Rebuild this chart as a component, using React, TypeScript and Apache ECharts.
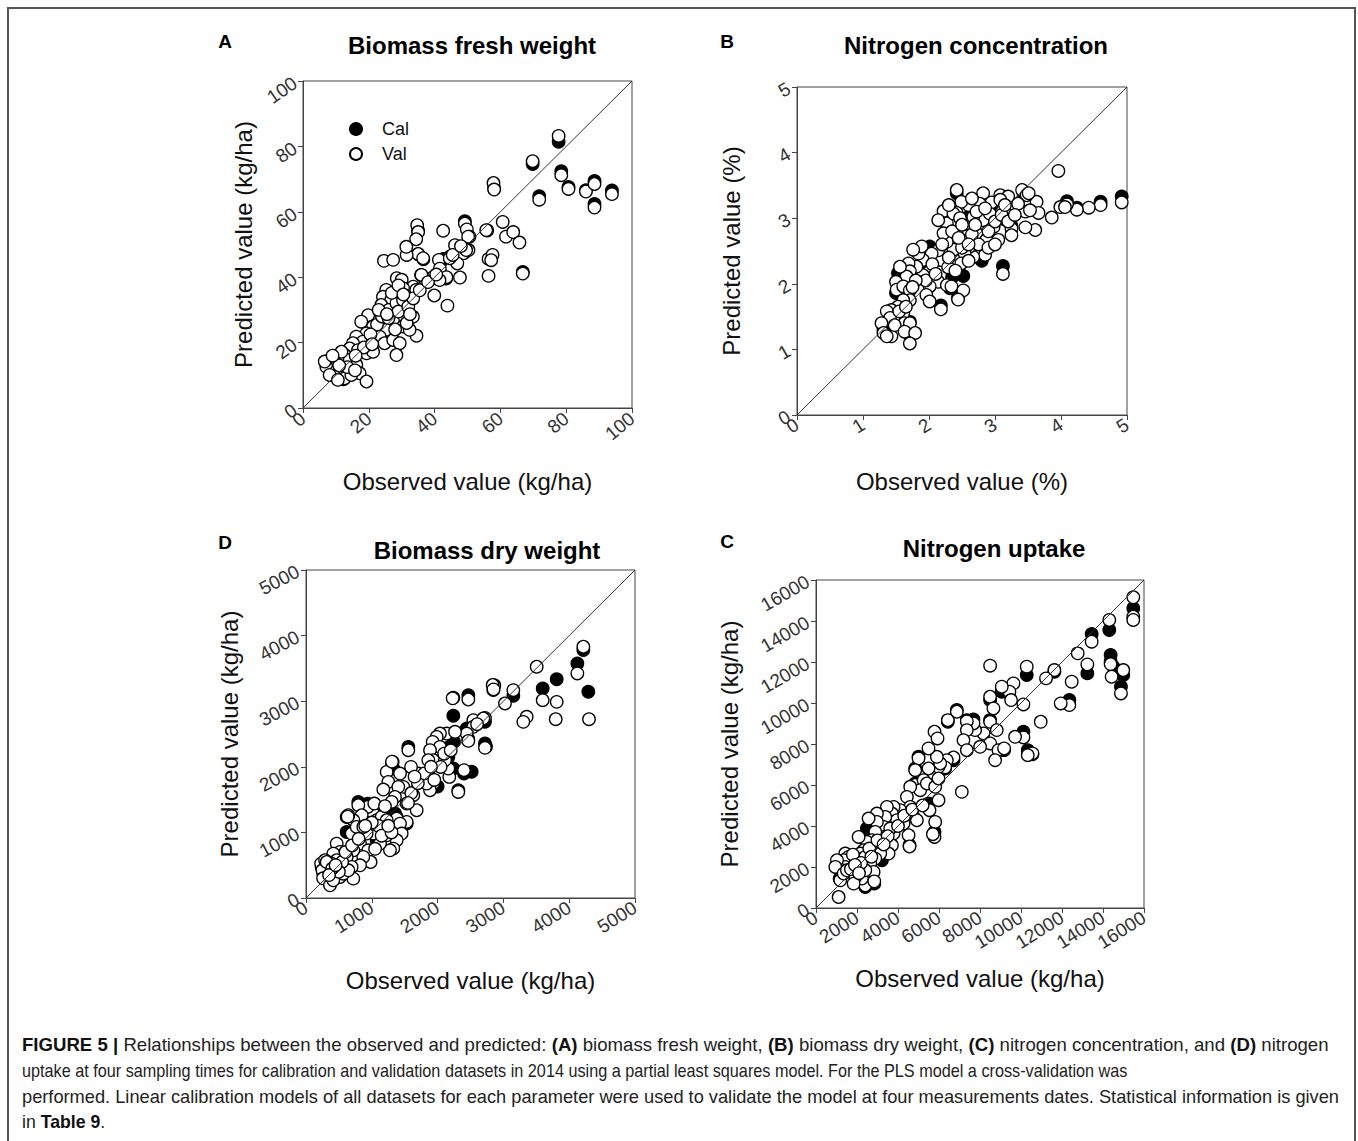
import { useEffect, useRef } from "react";
import * as echarts from "echarts";

const FONT = '"Liberation Sans", Arial, Helvetica, sans-serif';
const CAP_FONT = '"Liberation Sans Narrow", "Liberation Sans", Arial, sans-serif';

// ---------- Panel A: biomass fresh weight (kg/ha) ----------
const freshTicks = { max: 100, interval: 20 };
const freshCal: number[][] = [
  [77.7, 81.4], [69.8, 74.6], [78.5, 72.4], [80.7, 67.6], [71.8, 64.8], [88.6, 69.4], [88.6, 62.4],
  [93.9, 66.5], [58.1, 67.2], [66.8, 41.6], [49.2, 57.1], [35, 54.1], [42.6, 45.6], [12.3, 8.8],
  [28, 29], [35, 47], [20, 20], [25, 24], [49, 47.5], [86, 66.6], [31, 27], [15, 15],
];
const freshVal: number[][] = [
  [77.7, 83.2], [69.8, 75.5], [78.5, 71.2], [80.7, 67], [71.8, 63.7], [86, 66.2], [88.6, 68.5],
  [88.6, 61.3], [93.9, 65.4], [57.9, 68.8], [58.1, 66.8], [56, 54.3], [60.7, 56.9], [61.7, 52.4],
  [63.9, 53.8], [65.8, 50.6], [56.4, 45.6], [57.6, 46.8], [57.2, 45.2], [56.4, 40.4], [66.8, 41.1],
  [49.2, 56.4], [49.8, 54.6], [50.6, 52.4], [50.3, 48.3], [48.7, 47.3], [46.2, 49.8], [46.9, 44.2],
  [47.7, 39.9], [44.7, 46.3], [42.6, 54.2], [41.3, 45.3], [41.6, 42.6], [43.5, 39.6], [39.9, 34.4],
  [43.9, 31.3], [39.6, 40.1], [37.6, 38.6], [34.7, 55.9], [35, 53.8], [34.4, 51.6], [36.6, 45.5],
  [35, 47.1], [31.5, 46.8], [31.4, 49.3], [24.6, 45], [27.4, 45.3], [35.9, 40.7], [33.5, 37.1],
  [34.4, 36.1], [28.5, 39.7], [30, 39.2], [30.4, 36.6], [34.5, 22.1], [36.5, 45.8], [44.6, 45.8],
  [43.6, 40], [41.5, 39.1], [55.7, 54.4], [49.6, 48.3], [50.2, 52.4], [37.3, 38.9], [36, 40.7],
  [25.3, 36.1], [24.3, 34], [26.8, 33], [23.8, 31.5], [22.1, 27.9], [26.1, 30], [28.4, 32],
  [30.4, 33], [31.4, 30], [33.4, 27.9], [29.4, 27.4], [27.4, 26.4], [30.4, 24.9], [32.4, 23.9],
  [25.3, 23.9], [23.3, 21.8], [24.8, 19.8], [27.4, 20.8], [29.4, 19.8], [28.4, 16.2], [19.8, 28.4],
  [17.7, 26.4], [21.3, 24.9], [19.3, 22.8], [16.2, 21.8], [18.2, 20.3], [20.8, 19.3], [15.2, 19.8],
  [14.2, 18.2], [16.7, 17.7], [19.3, 16.7], [21.3, 17.2], [12.7, 16.2], [10.1, 15.7], [8.1, 14.7],
  [9.6, 13.7], [12.2, 13.7], [14.2, 14.7], [16.2, 13.2], [7.1, 12.6], [10.1, 11.2], [8.1, 10.1],
  [12.7, 11.6], [17.2, 10.6], [12.7, 9.1], [10.6, 8.6], [19.3, 8.1], [14.7, 10.1], [6.6, 14.2],
  [11.7, 17.2], [22.5, 25.5], [24, 28], [26, 27.5], [29, 29.5], [32, 31], [27, 35.2], [29, 37.5],
  [31.5, 26], [23, 30], [20.5, 22.5], [18.5, 18.5], [13.5, 12.5], [11, 13], [9, 16], [16, 16],
  [32.5, 28.7], [33.5, 33.5], [30.5, 34.7], [25.5, 28.7], [28, 24], [21, 19.5], [15.8, 11.5],
  [35.5, 36], [38, 38.5], [40.5, 40.8], [45.5, 46.8], [48, 49.5],
];

// ---------- Panel B: nitrogen concentration (%) ----------
const nConcTicks = { max: 5, interval: 1 };
const nConcCal: number[][] = [
  [4.92, 3.33], [4.6, 3.25], [4.24, 3.16], [4.09, 3.26], [3.25, 2.88], [3.12, 2.27], [2.52, 2.12],
  [2.44, 1.79], [2.18, 1.67], [2.01, 2.57], [2.42, 3.38], [2.32, 1.93], [1.53, 2.16], [1.5, 1.86],
  [1.71, 1.42], [1.71, 1.22], [1.31, 1.3], [2.62, 3.04], [3.43, 3.38], [2.35, 2.1], [2.8, 2.35],
  [2.95, 3.2], [1.85, 2.2],
];
const nConcVal: number[][] = [
  [3.96, 3.72], [4.92, 3.24], [4.6, 3.2], [4.42, 3.16], [4.24, 3.13], [4.09, 3.21], [3.99, 3.17],
  [4.06, 3.17], [3.86, 3.01], [3.63, 3.25], [3.66, 3.08], [3.61, 2.82], [3.46, 2.86], [3.41, 3.43],
  [3.48, 3.35], [3.46, 3.1], [3.53, 3.12], [3.3, 3.2], [3.15, 2.98], [3.25, 2.84], [3.25, 2.74],
  [3.12, 2.15], [2.52, 1.9], [2.44, 1.76], [2.18, 1.61], [2.42, 3.43], [2.82, 3.38], [3.08, 3.35],
  [3.2, 3.33], [2.95, 3.24], [2.77, 3.22], [2.6, 3.2], [2.49, 3.25], [2.42, 3.08], [2.22, 3.11],
  [2.27, 2.92], [2.42, 2.77], [2.57, 2.92], [2.72, 2.77], [2.82, 2.97], [2.98, 2.87], [3.05, 2.67],
  [2.87, 2.67], [2.72, 2.46], [2.85, 2.44], [2.67, 2.41], [2.62, 2.57], [2.54, 2.46], [2.49, 2.31],
  [2.37, 2.52], [2.27, 2.64], [2.22, 2.77], [2.12, 2.46], [2.19, 2.36], [2.14, 2.51], [2.29, 2.25],
  [2.14, 2.03], [2.27, 1.98], [2.34, 1.96], [2.04, 2.46], [2.01, 2.19], [2.01, 1.96], [1.96, 1.83],
  [2.01, 1.73], [1.91, 2.13], [1.91, 2.36], [1.84, 2.46], [1.81, 2.26], [1.89, 2.57], [1.76, 2.52],
  [1.69, 2.31], [1.71, 2.19], [1.66, 2.11], [1.56, 2.26], [1.5, 2.03], [1.51, 1.91], [1.61, 1.96],
  [1.71, 1.9], [1.71, 1.75], [1.61, 1.75], [1.53, 1.65], [1.43, 1.6], [1.36, 1.58], [1.51, 1.48],
  [1.41, 1.48], [1.61, 1.55], [1.63, 1.4], [1.71, 1.4], [1.28, 1.4], [1.31, 1.25], [1.43, 1.2],
  [1.48, 1.37], [1.63, 1.27], [1.79, 1.25], [1.71, 1.09], [1.36, 1.2], [2.14, 2.97], [2.37, 3.07],
  [2.47, 3.0], [2.67, 3.02], [2.72, 3.1], [2.92, 3.07], [3.08, 3.28], [3.51, 3.38], [2.55, 2.65],
  [2.65, 2.75], [2.75, 2.6], [2.9, 2.8], [3.0, 2.95], [3.1, 3.05], [2.35, 2.8], [2.5, 2.55],
  [2.3, 2.4], [2.4, 2.2], [2.6, 2.35], [2.2, 2.6], [2.05, 2.3], [1.95, 2.05], [1.8, 2.05],
  [1.75, 1.95], [2.1, 2.15], [2.7, 2.9], [2.85, 3.15], [3.2, 2.95], [3.35, 3.22], [3.3, 3.05],
  [3.15, 3.2], [2.9, 2.55], [3.0, 2.6], [2.65, 3.3], [2.3, 3.2], [1.55, 1.58], [1.65, 1.65],
  [2.5, 2.9], [2.45, 2.7], [2.6, 2.6],
];

// ---------- Panel D: biomass dry weight (kg/ha) ----------
const dryTicks = { max: 5000, interval: 1000 };
const dryCal: number[][] = [
  [4215, 3779], [4124, 3575], [4291, 3143], [3810, 3336], [3597, 3194], [3151, 3082], [2720, 2685],
  [2720, 2355], [2467, 3092], [2239, 2777], [2442, 2584], [2467, 2420], [2401, 1897], [2315, 1643],
  [2239, 1973], [2249, 2380], [2178, 2304], [2163, 2151], [1859, 1897], [1555, 2304], [1530, 1134],
  [1327, 1973], [1226, 1338], [1352, 1287], [1378, 1236], [1074, 880], [937, 1439], [795, 1465],
  [618, 1236], [618, 1007], [263, 371], [2518, 1926], [1307, 2053], [2736, 2307], [2000, 1700],
];
const dryVal: number[][] = [
  [4215, 3830], [4124, 3423], [3506, 3525], [4301, 2726], [3810, 2990], [3795, 2726], [3597, 3016],
  [3354, 2762], [3303, 2685], [3151, 3169], [3024, 2965], [2862, 3245], [2847, 3169], [2720, 2746],
  [2720, 2289], [2467, 3026], [2239, 3052], [2543, 2711], [2543, 2609], [2442, 2507], [2467, 2395],
  [2695, 2736], [2401, 1948], [2315, 1617], [2178, 1846], [2163, 1973], [2138, 2507], [2265, 2533],
  [2036, 2507], [1986, 2456], [1925, 2380], [2036, 2304], [1885, 2253], [1935, 2100], [1859, 2100],
  [1935, 1744], [1885, 1643], [1834, 1744], [2112, 2100], [2046, 1998], [1707, 1897], [1596, 1998],
  [1555, 2253], [1682, 1338], [1530, 1160], [1530, 1439], [1631, 1567], [1479, 1694], [1429, 1897],
  [1317, 2075], [1226, 1922], [1251, 1770], [1175, 1653], [1403, 1694], [1352, 1541], [1302, 1465],
  [1378, 1210], [1429, 1134], [1454, 982], [1378, 880], [1327, 753], [1276, 727], [1226, 956],
  [1175, 1032], [1125, 829], [1023, 982], [922, 982], [1023, 1287], [1074, 1185], [1150, 1236],
  [1226, 1185], [937, 1388], [795, 1414], [846, 1261], [719, 1185], [643, 1261], [694, 982],
  [770, 1083], [871, 1083], [821, 829], [947, 727], [982, 549], [871, 626], [821, 498], [719, 727],
  [618, 626], [694, 473], [719, 295], [567, 473], [466, 829], [517, 702], [415, 676], [466, 575],
  [390, 524], [314, 422], [238, 473], [230, 524], [250, 422], [260, 300], [365, 193], [441, 371],
  [517, 320], [567, 371], [643, 422], [415, 270], [290, 575], [314, 549], [2229, 3044], [2837, 3247],
  [1307, 2078], [633, 1240], [1038, 1440], [1100, 1100], [1200, 1400], [1000, 1150], [900, 1100],
  [1150, 950], [1300, 1000], [1600, 1600], [1700, 1750], [1800, 1900], [1900, 2000], [1650, 1850],
  [2100, 2200], [2200, 2250], [1950, 1800], [1550, 1450], [550, 550], [600, 700], [700, 800],
  [800, 900], [500, 400], [400, 450], [350, 350], [450, 500], [2850, 3180], [2600, 2650], [1050, 750],
  [1250, 1100],
];

// ---------- Panel C: nitrogen uptake (kg/ha) ----------
const uptakeTicks = { max: 16000, interval: 2000 };
const uptakeCal: number[][] = [
  [15477, 14619], [14307, 13561], [13447, 13366], [13236, 11445], [14372, 12340], [14372, 12015],
  [14502, 11770], [14990, 11364], [14876, 10794], [12359, 10142], [11628, 11526], [10280, 11364],
  [10118, 8596], [10329, 7700], [9062, 10550], [8493, 10142], [8493, 9166], [9176, 7700], [7681, 9198],
  [7357, 9166], [6869, 9654], [6431, 9084], [6707, 7212], [6301, 6805], [5002, 7375], [4840, 6805],
  [4840, 6072], [5489, 5096], [5781, 3712], [4563, 3061], [3216, 2328], [2485, 3875], [2842, 1188],
  [2404, 1026], [1153, 1433], [10556, 7500],
];
const uptakeVal: number[][] = [
  [15477, 15157], [15477, 14212], [15477, 14050], [14307, 14050], [13447, 12991], [12765, 12422],
  [13236, 11884], [14372, 11900], [14421, 11282], [14990, 11608], [14876, 10468], [12472, 11038],
  [12359, 9898], [11937, 9980], [11628, 11608], [11222, 11201], [10280, 11770], [10118, 9931],
  [10118, 8319], [10556, 7538], [10329, 7456], [10962, 9084], [9712, 8352], [9631, 10957],
  [9436, 10550], [9517, 10142], [9062, 10794], [8493, 11819], [8493, 10305], [8655, 9736],
  [8493, 9080], [8818, 8677], [8168, 8514], [8493, 8026], [8899, 7700], [8737, 7212], [9176, 7782],
  [8006, 7863], [7763, 8677], [7681, 9003], [7357, 9100], [7357, 8677], [7194, 8189], [7357, 7700],
  [7113, 5665], [6869, 9573], [6431, 9166], [6707, 7342], [6382, 7212], [6301, 6860], [5976, 6886],
  [6058, 7049], [5895, 7375], [5781, 8596], [5928, 8270], [5489, 7782], [5489, 6805], [5002, 7294],
  [4840, 6724], [4840, 6000], [5246, 6235], [5083, 5747], [5408, 6072], [5814, 5910], [5976, 6317],
  [5976, 5258], [5538, 4770], [5814, 4200], [5781, 3468], [5700, 3600], [4596, 5910], [4434, 5421],
  [4596, 4933], [4758, 4444], [4921, 4282], [4434, 4607], [4271, 4119], [4515, 3549], [4563, 3000],
  [4109, 4770], [3784, 4933], [3703, 4607], [3946, 4282], [3784, 3630], [3703, 3061], [3540, 2654],
  [3459, 4933], [3378, 4444], [3297, 3956], [3622, 3875], [3297, 3468], [3134, 2654], [2972, 4607],
  [2972, 4200], [2891, 3712], [2728, 3305], [2891, 2409], [2566, 4363], [2485, 3223], [2322, 2816],
  [2647, 2165], [2810, 1758], [2404, 1107], [2241, 1433], [2079, 3468], [2160, 2654], [1916, 2328],
  [1754, 2002], [1997, 1840], [1916, 1514], [1835, 1188], [2241, 2002], [1429, 2654], [1592, 2491],
  [1348, 2328], [1429, 2002], [1267, 1840], [1186, 1351], [1023, 2328], [942, 2002], [1348, 1677],
  [1104, 537], [1510, 1840], [1997, 2409], [2404, 1840], [2404, 2491], [2842, 1300], [1800, 2600],
  [2600, 2900], [3000, 3300], [3500, 3500], [4000, 4000], [4300, 4500], [4700, 4800], [5200, 5000],
  [2200, 2200], [1700, 1900], [1900, 2100], [2100, 1700], [3300, 3100], [2700, 2500],
];

// ---------- texts ----------
const panelLetters = ["A", "B", "D", "C"];
const panelTitles = ["Biomass fresh weight", "Nitrogen concentration", "Biomass dry weight", "Nitrogen uptake"];
const xNames = ["Observed value (kg/ha)", "Observed value (%)", "Observed value (kg/ha)", "Observed value (kg/ha)"];
const yNames = ["Predicted value (kg/ha)", "Predicted value (%)", "Predicted value (kg/ha)", "Predicted value (kg/ha)"];
const legendNames = ["Cal", "Val"];

const captionLines: [boolean, string][][] = [
  [
    [true, "FIGURE 5 |"], [false, " Relationships between the observed and predicted: "], [true, "(A)"],
    [false, " biomass fresh weight, "], [true, "(B)"], [false, " biomass dry weight, "], [true, "(C)"],
    [false, " nitrogen concentration, and "], [true, "(D)"], [false, " nitrogen"],
  ],
  [[false, "uptake at four sampling times for calibration and validation datasets in 2014 using a partial least squares model. For the PLS model a cross-validation was"]],
  [[false, "performed. Linear calibration models of all datasets for each parameter were used to validate the model at four measurements dates. Statistical information is given"]],
  [[false, "in "], [true, "Table 9"], [false, "."]],
];

export default function App() {
  const ref = useRef<HTMLDivElement>(null);

  useEffect(() => {
    document.body.style.margin = "0";
    if (!ref.current) return;
    const chart = echarts.init(ref.current, undefined, { renderer: "svg" });

    const ticks = [freshTicks, nConcTicks, dryTicks, uptakeTicks];
    const cals = [freshCal, nConcCal, dryCal, uptakeCal];
    const vals = [freshVal, nConcVal, dryVal, uptakeVal];

    const grids = [
      { left: 303, top: 81, width: 329, height: 327 },
      { left: 797, top: 87, width: 330, height: 328 },
      { left: 306, top: 570, width: 329, height: 328 },
      { left: 816, top: 580, width: 328, height: 328 },
    ];
    const xGap = [61, 54, 70, 58];
    const yGap = [48, 54, 65, 75];
    const xRot = [40, 32, 32, 32];
    const yRot = [35, 30, 28, 30];
    const letterPos = [[225, 41], [727, 41], [225, 542], [727, 541]];
    const titlePos = [[472, 45], [976, 45], [487, 550], [994, 548]];

    const axisCommon = (i: number, isX: boolean) => ({
      type: "value",
      gridIndex: i,
      min: 0,
      max: ticks[i].max,
      interval: ticks[i].interval,
      name: isX ? xNames[i] : yNames[i],
      nameLocation: "middle",
      nameGap: isX ? xGap[i] : yGap[i],
      nameMoveOverlap: false,
      nameTextStyle: { fontFamily: FONT, fontSize: 24, color: "#111" },
      axisLine: { show: true, onZero: false, lineStyle: { color: "#444", width: 1 } },
      axisTick: { show: true, inside: false, length: 5, lineStyle: { color: "#444", width: 1 } },
      axisLabel: {
        rotate: isX ? xRot[i] : yRot[i],
        margin: 8,
        fontFamily: FONT,
        fontSize: 19,
        color: "#333",
        showMinLabel: true,
        showMaxLabel: true,
        hideOverlap: false,
        formatter: (v: number) => String(v),
      },
      splitLine: { show: false },
    });

    const series: any[] = [];
    for (let i = 0; i < 4; i++) {
      series.push({
        type: "scatter", name: "Cal", xAxisIndex: i, yAxisIndex: i, data: cals[i], symbol: "circle",
        symbolSize: 12.5, itemStyle: { color: "#000", borderColor: "#000", borderWidth: 1.3, opacity: 1 }, z: 2,
      });
      series.push({
        type: "scatter", name: "Val", xAxisIndex: i, yAxisIndex: i, data: vals[i], symbol: "circle",
        symbolSize: 12.5, itemStyle: { color: "#fff", borderColor: "#000", borderWidth: 1.3, opacity: 1 }, z: 2,
      });
      series.push({
        type: "line", xAxisIndex: i, yAxisIndex: i, data: [[0, 0], [ticks[i].max, ticks[i].max]],
        symbol: "none", silent: true, lineStyle: { color: "#333", width: 1 }, z: 3,
      });
    }

    // caption, fitted horizontally to the reference line widths
    const canvas = document.createElement("canvas");
    const ctx = canvas.getContext("2d")!;
    const capSize = 18;
    const measure = (segs: [boolean, string][]) =>
      segs.reduce((w, [b, t]) => {
        ctx.font = `${b ? "bold " : ""}${capSize}px ${CAP_FONT}`;
        return w + ctx.measureText(t).width;
      }, 0);
    const targets = [1306, 1106, 1318];
    const scales = captionLines.slice(0, 3).map((l, k) => targets[k] / measure(l));
    const meanScale = (scales[0] + scales[1] + scales[2]) / 3;
    const capY = [1045, 1071, 1097, 1122];
    const captionEls = captionLines.map((segs, k) => ({
      type: "text",
      x: 22,
      y: capY[k],
      scaleX: k < 3 ? scales[k] : meanScale,
      style: {
        text: segs.map(([b, t]) => `{${b ? "b" : "n"}|${t}}`).join(""),
        textVerticalAlign: "middle",
        rich: {
          b: { fontFamily: CAP_FONT, fontSize: capSize, fontWeight: "bold", fill: "#111" },
          n: { fontFamily: CAP_FONT, fontSize: capSize, fill: "#222" },
        },
      },
    }));

    const graphic: any[] = [
      { type: "rect", shape: { x: 8, y: 8, width: 1347, height: 1300 }, style: { fill: "none", stroke: "#555", lineWidth: 2 }, silent: true },
      ...panelLetters.map((t, i) => ({
        type: "text", x: letterPos[i][0], y: letterPos[i][1],
        style: { text: t, fontFamily: FONT, fontSize: 19, fontWeight: "bold", fill: "#000", textAlign: "center", textVerticalAlign: "middle" },
      })),
      ...panelTitles.map((t, i) => ({
        type: "text", x: titlePos[i][0], y: titlePos[i][1],
        style: { text: t, fontFamily: FONT, fontSize: 24, fontWeight: "bold", fill: "#000", textAlign: "center", textVerticalAlign: "middle" },
      })),
      ...captionEls,
    ];

    chart.setOption({
      animation: false,
      backgroundColor: "#fff",
      grid: grids.map((g) => ({ ...g, show: true, borderColor: "#444", borderWidth: 1, backgroundColor: "transparent", outerBoundsMode: "none", containLabel: false })),
      xAxis: [0, 1, 2, 3].map((i) => axisCommon(i, true)),
      yAxis: [0, 1, 2, 3].map((i) => axisCommon(i, false)),
      legend: {
        data: legendNames,
        orient: "vertical",
        left: 344,
        top: 115,
        itemWidth: 12,
        itemHeight: 12,
        itemGap: 7,
        icon: "circle",
        selectedMode: false,
        textStyle: { fontFamily: FONT, fontSize: 18, color: "#111", padding: [0, 0, 0, 15] },
      },
      graphic,
      series,
    });

    return () => chart.dispose();
  }, []);

  return <div ref={ref} style={{ width: 1358, height: 1141 }} />;
}
